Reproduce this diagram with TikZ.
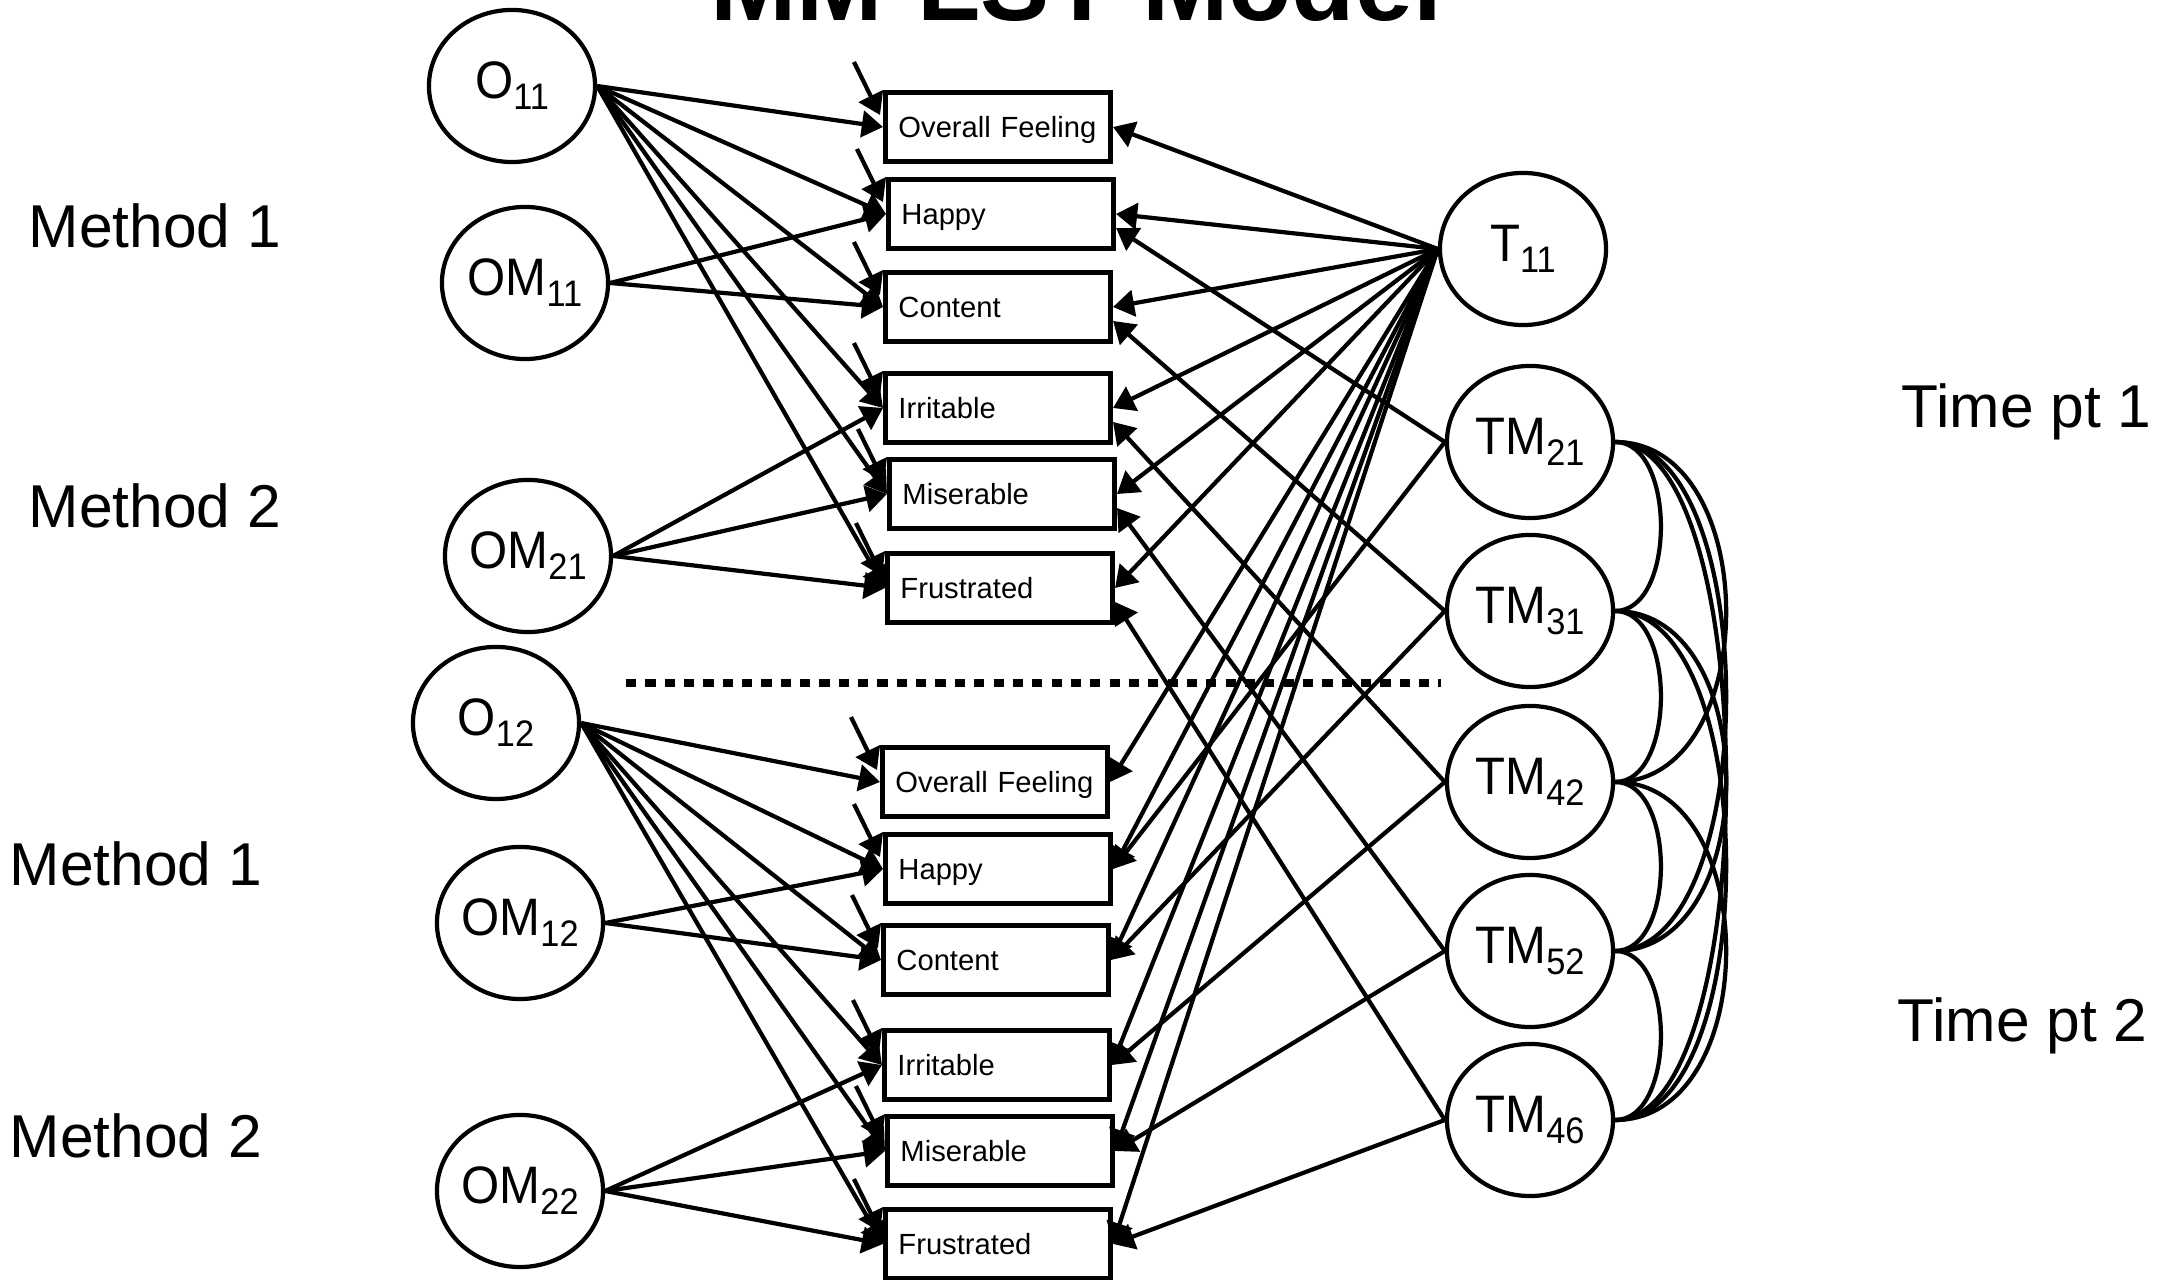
\documentclass[tikz,border=0pt]{standalone}
\usepackage{fontspec}
\setmainfont{Liberation Sans}
\newfontfamily\latfont{Liberation Sans}[FakeStretch=0.93]
\usetikzlibrary{arrows.meta,calc,shapes.geometric}
% lowered subscript for factor names
\newcommand\lsub[1]{\raisebox{-3.1pt}{\fontsize{10.5}{11}\selectfont #1}}

\begin{document}
\begin{tikzpicture}[x=0.01cm,y=-0.01cm,
  latent/.style={ellipse,draw,line width=1.2pt,minimum width=1.66cm,minimum height=1.52cm,
    inner sep=0pt,font=\latfont\fontsize{15}{16}\selectfont},
  item/.style={rectangle,draw,line width=1.4pt,minimum width=2.25cm,minimum height=0.69cm,
    text width=1.99cm,inner xsep=0.13cm,inner ysep=0pt,align=left,
    text height=6pt,text depth=0pt,font=\fontsize{8.3}{9}\selectfont,
    execute at begin node={\hyphenpenalty 10000\relax}},
  load/.style={line width=1.2pt,-{Triangle[length=6pt,width=7.5pt]}},
  corr/.style={line width=1.2pt},
  sidelabel/.style={anchor=base west,inner sep=0pt,font=\fontsize{17.2}{18}\selectfont},
  divider/.style={line width=2pt,dash pattern=on 2.9pt off 2.6pt}
]
\clip (0,0) rectangle (2167,1280);

% title
\node[anchor=base,inner sep=0pt,font=\fontsize{29.5}{30}\selectfont\bfseries] (title) at (1076,21) {MM-LST Model};

% side labels
\node[sidelabel] (m1a) at (28,248) {Method 1};
\node[sidelabel] (m2a) at (28,528) {Method 2};
\node[sidelabel] (m1b) at (9,886) {Method 1};
\node[sidelabel] (m2b) at (9,1157) {Method 2};
\node[sidelabel] (tp1) at (1901,428) {Time pt 1};
\node[sidelabel] (tp2) at (1897,1041) {Time pt 2};

% method factors (left)
\node[latent] (O11)  at (512,86)   {O\lsub{11}};
\node[latent] (OM11) at (525,283)  {OM\lsub{11}};
\node[latent] (OM21) at (528,556)  {OM\lsub{21}};
\node[latent] (O12)  at (496,723)  {O\lsub{12}};
\node[latent] (OM12) at (520,923)  {OM\lsub{12}};
\node[latent] (OM22) at (520,1191) {OM\lsub{22}};

% trait factors (right)
\node[latent] (T11)  at (1523,249)  {T\lsub{11}};
\node[latent] (TM21) at (1530,442)  {TM\lsub{21}};
\node[latent] (TM31) at (1530,611)  {TM\lsub{31}};
\node[latent] (TM42) at (1530,782)  {TM\lsub{42}};
\node[latent] (TM52) at (1530,951)  {TM\lsub{52}};
\node[latent] (TM46) at (1530,1120) {TM\lsub{46}};

% indicators, time point 1
\node[item] (OF1) at (998,127)  {Overall Feeling};
\node[item] (H1)  at (1001,214) {Happy};
\node[item] (C1)  at (998,307)  {Content};
\node[item] (I1)  at (998,408)  {Irritable};
\node[item] (M1)  at (1002,494) {Miserable};
\node[item] (F1)  at (1000,588) {Frustrated};
% indicators, time point 2
\node[item] (OF2) at (995,782)  {Overall Feeling};
\node[item] (H2)  at (998,869)  {Happy};
\node[item] (C2)  at (996,960)  {Content};
\node[item] (I2)  at (997,1065) {Irritable};
\node[item] (M2)  at (1000,1151) {Miserable};
\node[item] (F2)  at (998,1244) {Frustrated};

% separator between the time points
\coordinate (dl) at (626,683);
\coordinate (dr) at (1441,683);
\draw[divider] (dl) -- (dr);

% error terms
\foreach \b in {OF1,H1,C1,I1,M1,F1,OF2,H2,C2,I2,M2,F2}
  \draw[load] ($(\b.north west)+(-29,-28)$) -- ($(\b.north west)+(-3,25)$);

% method factor loadings
\foreach \b in {OF1,H1,C1,I1,M1,F1} \draw[load] (O11.east) -- (\b.west);
\foreach \b in {H1,C1} \draw[load] (OM11.east) -- (\b.west);
\foreach \b in {I1,M1,F1} \draw[load] (OM21.east) -- (\b.west);
\foreach \b in {OF2,H2,C2,I2,M2,F2} \draw[load] (O12.east) -- (\b.west);
\foreach \b in {H2,C2} \draw[load] (OM12.east) -- (\b.west);
\foreach \b in {I2,M2,F2} \draw[load] (OM22.east) -- (\b.west);

% trait loadings
\foreach \b in {OF1,H1,C1,I1,M1,F1,OF2,H2,C2,I2,M2,F2} \draw[load] (T11.west) -- (\b.east);
\foreach \f/\b in {TM21/H1,TM31/C1,TM42/I1,TM52/M1,TM46/F1}
  \draw[load] (\f.west) -- ($(\b.east)+(0,14)$);
\foreach \f/\b in {TM21/H2,TM31/C2,TM42/I2,TM52/M2,TM46/F2}
  \draw[load] (\f.west) -- (\b.east);

% correlations among the trait-method factors
\foreach \a/\b in {TM21/TM31,TM31/TM42,TM42/TM52,TM52/TM46}
  \draw[corr] (\a.east) .. controls +(61,0) and +(61,0) .. (\b.east);
\foreach \a/\b in {TM21/TM42,TM21/TM52,TM21/TM46,TM31/TM52,TM31/TM46,TM42/TM46}
  \draw[corr] (\a.east) .. controls +(148,0) and +(148,0) .. (\b.east);
\end{tikzpicture}
\end{document}
